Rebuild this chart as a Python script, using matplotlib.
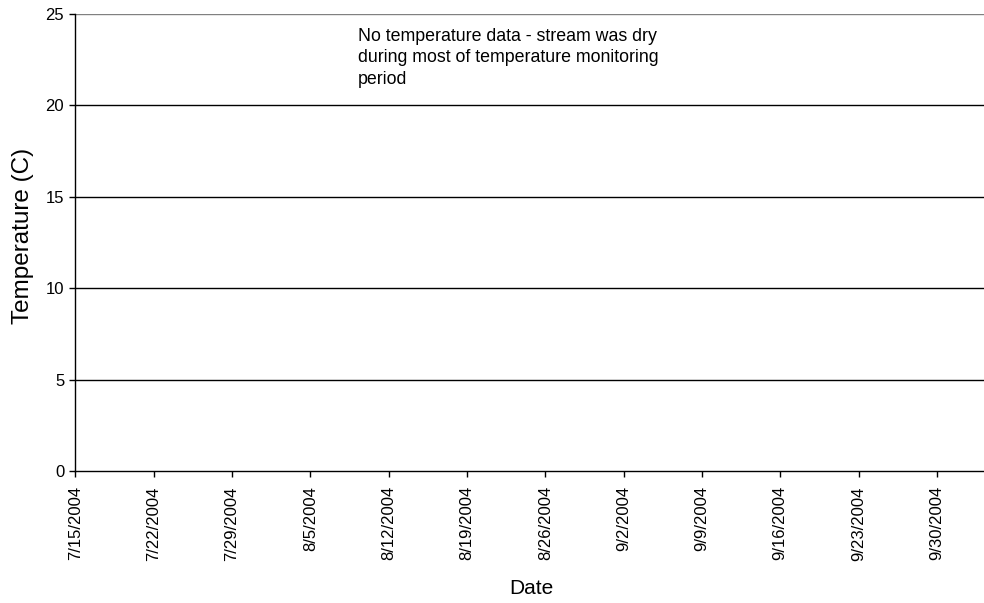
import matplotlib
matplotlib.use('Agg')
import matplotlib.pyplot as plt
import pandas as pd

# tick dates on the x axis (weekly)
tick_dates = pd.to_datetime(['2004-07-15', '2004-07-22', '2004-07-29', '2004-08-05',
                             '2004-08-12', '2004-08-19', '2004-08-26', '2004-09-02',
                             '2004-09-09', '2004-09-16', '2004-09-23', '2004-09-30'])
tick_labels = ['7/15/2004', '7/22/2004', '7/29/2004', '8/5/2004', '8/12/2004', '8/19/2004',
               '8/26/2004', '9/2/2004', '9/9/2004', '9/16/2004', '9/23/2004', '9/30/2004']
y_ticks = [0, 5, 10, 15, 20, 25]
# stream was dry -> no temperature records
temp_dates = []
temp_values = []

plt.rcParams['font.family'] = ['Liberation Sans', 'DejaVu Sans']

fig = plt.figure(figsize=(9.84, 6.03), dpi=100)
ax = fig.add_axes([0.0765, 0.219, 0.9235, 0.7578])

ax.plot(temp_dates, temp_values, color='black')

ax.set_xlim(pd.Timestamp('2004-07-15'), pd.Timestamp('2004-10-04 05:00'))
ax.set_ylim(0, 25)

for y in y_ticks[1:]:
    ax.axhline(y, color='#808080' if y == 25 else 'black', lw=1.0, zorder=1)

ax.set_xticks(tick_dates)
ax.set_xticklabels(tick_labels, rotation=90, fontsize=12)
ax.set_yticks(y_ticks)
ax.tick_params(axis='y', labelsize=12, length=4, width=1, pad=4)
ax.tick_params(axis='x', length=4, width=1, pad=7)

for s in ['top', 'right']:
    ax.spines[s].set_visible(False)
ax.spines['left'].set_linewidth(1)
ax.spines['bottom'].set_linewidth(1)

ax.set_ylabel('Temperature (C)', fontsize=17.5)
ax.yaxis.set_label_coords(-0.045, 0.514)
ax.set_xlabel('Date', fontsize=15)
ax.xaxis.set_label_coords(0.502, -0.236)

ax.text(0.311, 0.970, 'No temperature data - stream was dry\nduring most of temperature monitoring\nperiod',
        transform=ax.transAxes, ha='left', va='top', fontsize=12.8, linespacing=1.35)

fig.savefig('out.png', dpi=100)
